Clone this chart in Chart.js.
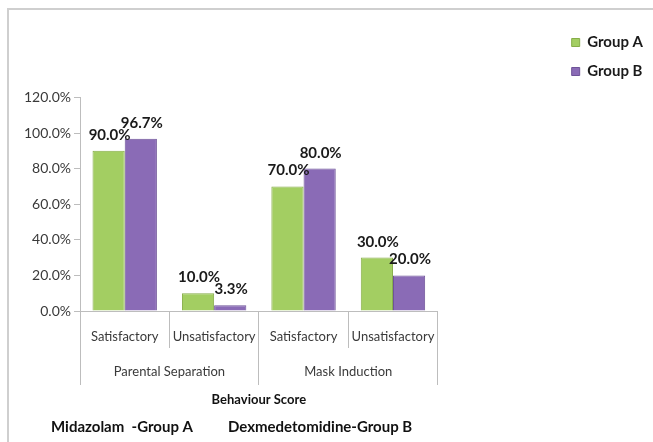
<!DOCTYPE html>
<html>
<head>
<meta charset="utf-8">
<script src="https://cdn.jsdelivr.net/npm/chart.js@4.4.0/dist/chart.umd.min.js"></script>
<style>
  body { margin: 0; background: #fff; }
  #wrap { position: relative; width: 653px; height: 442px; }
  #frame { position: absolute; left: 7px; top: 8px; right: 0; bottom: 0; border-top: 2px solid #cfcfcf; border-left: 2px solid #cfcfcf; }
  canvas { position: absolute; left: 0; top: 0; }
</style>
</head>
<body>
<div id="wrap"><div id="frame"></div><canvas id="chart" width="653" height="442"></canvas></div>
<script>
// data
var subLabels = ['Satisfactory', 'Unsatisfactory', 'Satisfactory', 'Unsatisfactory'];
var groupLabels = ['Parental Separation', 'Mask Induction'];
var groupA = [0.90, 0.10, 0.70, 0.30];
var groupB = [0.967, 0.033, 0.80, 0.20];
var yMin = 0, yMax = 1.2, yStep = 0.2;
var footA = 'Midazolam  -Group A';
var footB = 'Dexmedetomidine-Group B';

var FONT = 'Lato';

function pct(v) {
    return (v * 100).toFixed(1) + '%';
}

// label di atas bar
var valueLabels = {
    id: 'valueLabels',
    afterDatasetsDraw: function (chart) {
        var ctx = chart.ctx;
        ctx.save();
        ctx.font = 'bold 15px ' + FONT;
        ctx.fillStyle = '#1a1a1a';
        ctx.textAlign = 'center';
        ctx.textBaseline = 'alphabetic';
        chart.data.datasets.forEach(function (ds, i) {
            chart.getDatasetMeta(i).data.forEach(function (bar, j) {
                ctx.fillText(pct(ds.data[j]), bar.x + 1, bar.y - 11);
            });
        });
        ctx.restore();
    }
};

// teks bawah
var footText = {
    id: 'footText',
    afterDraw: function (chart) {
        var ctx = chart.ctx;
        var left = chart.chartArea.left;
        var y = chart.scales.x2.bottom + 17;
        ctx.save();
        ctx.font = 'bold 15px ' + FONT;
        ctx.fillStyle = '#111';
        ctx.textBaseline = 'middle';
        ctx.fillText(footA, left - 29, y);
        ctx.fillText(footB, left + 148, y);
        ctx.restore();
    }
};

var axisColor = '#bdbdbd';
var textColor = '#3a3a3a';

new Chart(document.getElementById('chart'), {
    type: 'bar',
    data: {
        labels: subLabels,
        datasets: [{
            label: 'Group A',
            data: groupA,
            backgroundColor: '#a3ce62',
            borderColor: '#86ad48',
            borderWidth: 1,
            categoryPercentage: 0.72,
            barPercentage: 1
        }, {
            label: 'Group B',
            data: groupB,
            backgroundColor: '#8a6bb6',
            borderColor: '#6e5398',
            borderWidth: 1,
            categoryPercentage: 0.72,
            barPercentage: 1
        }]
    },
    options: {
        responsive: false,
        animation: false,
        layout: { padding: { top: 21, right: 0, bottom: 32, left: 0 } },
        plugins: {
            legend: {
                position: 'right',
                align: 'start',
                labels: {
                    boxWidth: 8,
                    boxHeight: 8,
                    padding: 14,
                    color: '#1a1a1a',
                    font: { family: FONT, size: 15, weight: 'bold' }
                }
            },
            title: {
                display: true,
                text: '',
                padding: { top: 0, bottom: 62 },
                font: { size: 12 }
            },
            tooltip: { enabled: false }
        },
        scales: {
            x: {
                position: 'bottom',
                grid: { display: true, drawOnChartArea: false, offset: true, tickLength: 37, color: axisColor },
                border: { display: true, color: axisColor },
                ticks: { padding: -19, color: textColor, font: { family: FONT, size: 13 } },
                afterFit: function (s) { s.height = 37; }
            },
            x2: {
                type: 'category',
                position: 'bottom',
                labels: groupLabels,
                offset: true,
                grid: { display: true, drawOnChartArea: false, offset: true, tickLength: 37, color: axisColor },
                border: { display: false },
                ticks: { padding: -21, color: textColor, font: { family: FONT, size: 13 } },
                title: {
                    display: true,
                    text: 'Behaviour Score',
                    color: '#111',
                    padding: { top: 0, bottom: 2 },
                    font: { family: FONT, size: 13, weight: 'bold' }
                },
                afterFit: function (s) { s.height = 62; }
            },
            y: {
                min: yMin,
                max: yMax,
                ticks: {
                    stepSize: yStep,
                    padding: 3,
                    color: textColor,
                    font: { family: FONT, size: 14 },
                    callback: function (v) { return pct(v); }
                },
                grid: { display: true, drawOnChartArea: false, tickLength: 6, color: axisColor },
                border: { display: true, color: axisColor },
                afterFit: function (s) { s.width = 80; }
            },
            y2: {
                position: 'right',
                grid: { display: false },
                border: { display: false },
                ticks: { display: false },
                afterFit: function (s) { s.width = 120; }
            }
        }
    },
    plugins: [valueLabels, footText]
});
</script>
</body>
</html>
